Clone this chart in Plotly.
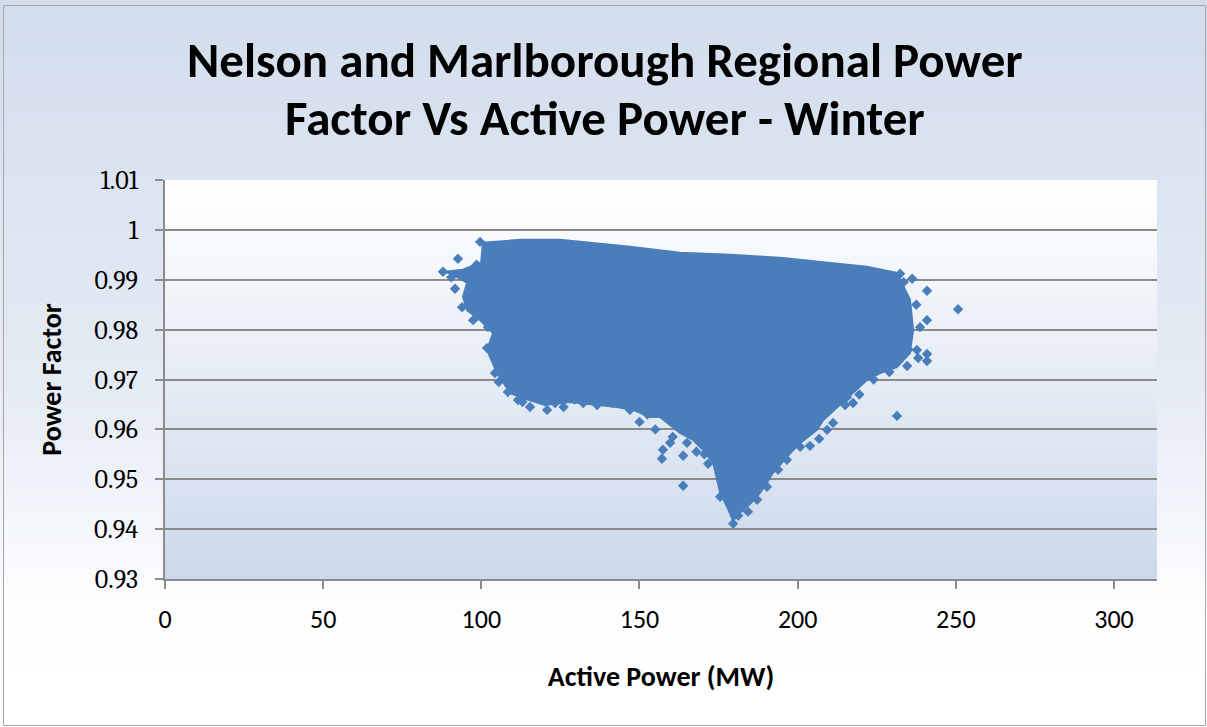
import zlib, struct, base64
import plotly.graph_objects as go

# ---------------- data ----------------
# Dense core of the scatter cloud: outline (Active Power MW, Power Factor)
cloud_x = [100.2, 112.2, 124.9, 147.0, 162.8, 178.6, 194.4, 210.2, 221.9, 231.4,
           232.4, 235.5, 236.5, 235.5, 231.4, 226.1, 221.9, 217.5, 212.5, 208.1,
           206.1, 200.8, 196.6, 192.2, 190.3, 187.2, 184.0, 181.8, 179.6, 177.7,
           175.5, 174.5, 173.3, 170.1, 166.9, 162.8, 160.3, 156.5, 153.3, 148.0,
           142.9, 137.5, 128.0, 120.1, 112.2, 109.1, 105.0, 101.8, 103.7, 99.6,
           95.5, 94.2, 95.5, 91.1, 88.5, 94.2, 99.6]
cloud_y = [0.9974, 0.9980, 0.9980, 0.9966, 0.9954, 0.9950, 0.9944, 0.9934, 0.9926, 0.9914,
           0.9900, 0.9860, 0.9800, 0.9753, 0.9725, 0.9713, 0.9699, 0.9673, 0.9645, 0.9619,
           0.9599, 0.9573, 0.9545, 0.9513, 0.9493, 0.9465, 0.9445, 0.9433, 0.9417, 0.9445,
           0.9473, 0.9499, 0.9533, 0.9559, 0.9579, 0.9593, 0.9605, 0.9625, 0.9625, 0.9639,
           0.9645, 0.9649, 0.9655, 0.9649, 0.9665, 0.9673, 0.9713, 0.9759, 0.9793, 0.9819,
           0.9839, 0.9866, 0.9894, 0.9910, 0.9916, 0.9920, 0.9934]

# Individually visible edge / outlier points
edge_x = [99.6, 92.6, 87.9, 91.7, 93.9, 97.4, 102.1, 101.8, 104.3, 108.4,
          111.6, 115.4, 120.8, 123.3, 132.2, 136.6, 141.6, 147.0, 157.1, 157.4,
          163.8, 163.8, 171.7, 165.0, 159.7, 175.5, 178.6, 179.6, 181.2, 184.3,
          187.2, 190.3, 193.8, 196.6, 200.8, 203.9, 206.8, 209.3, 211.2, 215.0,
          215.6, 217.5, 232.4, 236.2, 240.9, 250.7, 240.9, 238.7, 237.7, 240.9,
          240.9, 238.1, 234.6, 231.4,
          96.0, 105.5, 113.0, 126.0, 129.5, 144.0, 150.0, 152.5, 155.0, 160.5,
          168.0, 170.5, 233.5, 237.5, 235.0, 229.0, 224.0, 219.5, 90.5, 98.5]
edge_y = [0.9976, 0.9942, 0.9916, 0.9882, 0.9845, 0.9819, 0.9805, 0.9763, 0.9713, 0.9675,
          0.9659, 0.9645, 0.9639, 0.9653, 0.9653, 0.9649, 0.9653, 0.9639, 0.9541, 0.9559,
          0.9547, 0.9487, 0.9531, 0.9573, 0.9573, 0.9465, 0.9453, 0.9411, 0.9427, 0.9435,
          0.9459, 0.9485, 0.9519, 0.9539, 0.9565, 0.9567, 0.9581, 0.9599, 0.9613, 0.9649,
          0.9665, 0.9653, 0.9912, 0.9902, 0.9878, 0.9841, 0.9819, 0.9805, 0.9759, 0.9751,
          0.9737, 0.9743, 0.9727, 0.9627,
          0.9850, 0.9695, 0.9655, 0.9645, 0.9660, 0.9655, 0.9615, 0.9630, 0.9600, 0.9585,
          0.9555, 0.9550, 0.9895, 0.9850, 0.9760, 0.9715, 0.9700, 0.9670, 0.9905, 0.9930]

x_ticks = [0, 50, 100, 150, 200, 250, 300]
y_ticks = [0.93, 0.94, 0.95, 0.96, 0.97, 0.98, 0.99, 1.00, 1.01]
y_tick_labels = ["0.93", "0.94", "0.95", "0.96", "0.97", "0.98", "0.99", "1", "1.01"]

title_lines = ["Nelson and Marlborough Regional Power", "Factor Vs Active Power - Winter"]
x_title = "Active Power (MW)"
y_title = "Power Factor"

# ---------------- style ----------------
W, H = 1207, 727
L, R, T, B = 165, 50, 180, 148
PW, PH = W - L - R, H - T - B
BLUE = "#4a7ebb"
SANS = "Carlito, Lato, sans-serif"
SERIF = "Caladea, 'Liberation Serif', serif"


def gradient_uri(stops, n=256):
    rows = []
    for i in range(n):
        t = i / (n - 1)
        for j in range(len(stops) - 1):
            t0, c0 = stops[j]
            t1, c1 = stops[j + 1]
            if t0 <= t <= t1:
                f = 0 if t1 == t0 else (t - t0) / (t1 - t0)
                rows.append(tuple(int(round(c0[k] + (c1[k] - c0[k]) * f)) for k in range(3)))
                break
    raw = b"".join(b"\x00" + bytes(rgb) * 2 for rgb in rows)

    def chunk(tag, data):
        return struct.pack(">I", len(data)) + tag + data + struct.pack(">I", zlib.crc32(tag + data) & 0xFFFFFFFF)

    png = (b"\x89PNG\r\n\x1a\n"
           + chunk(b"IHDR", struct.pack(">IIBBBBB", 2, n, 8, 2, 0, 0, 0))
           + chunk(b"IDAT", zlib.compress(raw))
           + chunk(b"IEND", b""))
    return "data:image/png;base64," + base64.b64encode(png).decode()


outer_bg = gradient_uri([(0.0, (210, 221, 236)), (0.55, (230, 236, 245)), (0.85, (254, 254, 255)), (1.0, (255, 255, 255))])
plot_bg = gradient_uri([(0.0, (255, 255, 255)), (1.0, (204, 217, 235))])


def px_to_paper_x(px):
    return (px - L) / PW


def px_to_paper_y(py):
    return (H - B - py) / PH


fig = go.Figure()
fig.add_trace(go.Scatter(x=cloud_x, y=cloud_y, mode="lines", fill="toself",
                         fillcolor=BLUE, line=dict(color=BLUE, width=2),
                         hoverinfo="skip", showlegend=False))
fig.add_trace(go.Scatter(x=edge_x, y=edge_y, mode="markers",
                         marker=dict(symbol="diamond", size=8, color=BLUE, line=dict(width=0)),
                         showlegend=False))

fig.update_layout(
    width=W, height=H,
    margin=dict(l=L, r=R, t=T, b=B, pad=0),
    paper_bgcolor="white",
    plot_bgcolor="rgba(0,0,0,0)",
    showlegend=False,
    images=[
        dict(source=outer_bg, xref="paper", yref="paper",
             x=px_to_paper_x(0), y=px_to_paper_y(0),
             sizex=W / PW, sizey=H / PH, xanchor="left", yanchor="top",
             sizing="stretch", layer="below"),
        dict(source=plot_bg, xref="paper", yref="paper", x=0, y=1, sizex=1, sizey=1,
             xanchor="left", yanchor="top", sizing="stretch", layer="below"),
    ],
    shapes=[
        dict(type="rect", xref="paper", yref="paper",
             x0=px_to_paper_x(3.5), x1=px_to_paper_x(1205.5),
             y0=px_to_paper_y(5.5), y1=px_to_paper_y(725.5),
             line=dict(color="#a6a6a6", width=1), layer="above"),
    ],
    annotations=[
        dict(text="<b>%s</b>" % title_lines[0], xref="paper", yref="paper",
             x=px_to_paper_x(605), y=px_to_paper_y(60), showarrow=False,
             xanchor="center", yanchor="middle", font=dict(family=SANS, size=49, color="black")),
        dict(text="<b>%s</b>" % title_lines[1], xref="paper", yref="paper",
             x=px_to_paper_x(605), y=px_to_paper_y(118), showarrow=False,
             xanchor="center", yanchor="middle", font=dict(family=SANS, size=49, color="black")),
    ],
)

fig.update_xaxes(
    range=[0, 313.6], tickvals=x_ticks, ticktext=[str(v) for v in x_ticks],
    showgrid=False, zeroline=False, showline=True, linecolor="#8c8c8c", linewidth=1.5,
    ticks="outside", ticklen=8, tickcolor="#8c8c8c", tickwidth=1.5,
    tickfont=dict(family=SANS, size=26, color="black"), ticklabelstandoff=8,
    title=dict(text="<b>%s</b>" % x_title, font=dict(family=SANS, size=28, color="black"), standoff=32),
)
fig.update_yaxes(
    range=[0.93, 1.01], tickvals=y_ticks, ticktext=y_tick_labels,
    showgrid=True, gridcolor="#8a8a8a", gridwidth=1.5, zeroline=False,
    showline=True, linecolor="#8c8c8c", linewidth=1.5,
    ticks="outside", ticklen=8, tickcolor="#8c8c8c", tickwidth=1.5,
    tickfont=dict(family=SERIF, size=26, color="black"), ticklabelstandoff=12,
    title=dict(text="<b>%s</b>" % y_title, font=dict(family=SANS, size=28, color="black"), standoff=24),
)

fig.write_html("out.html", config={"displayModeBar": False},
               post_script="document.body.style.margin='0px';")
